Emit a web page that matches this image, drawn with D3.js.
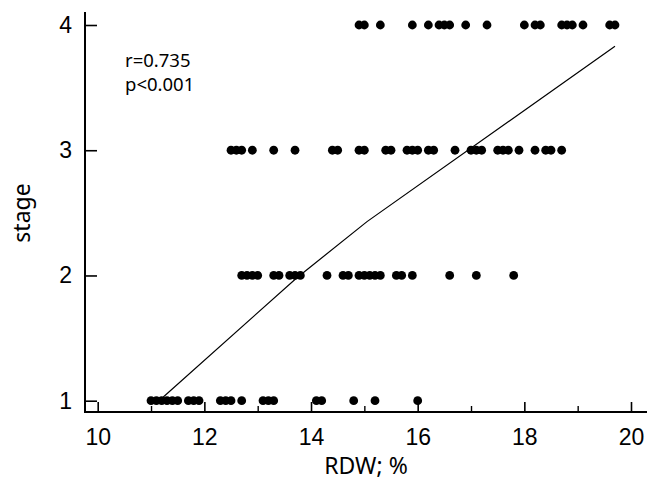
<!DOCTYPE html>
<html>
<head>
<meta charset="utf-8">
<script src="https://cdn.jsdelivr.net/npm/d3@7"></script>
<style>
  body { margin: 0; background: #fff; }
  svg { display: block; font-family: "Noto Sans", "Open Sans", sans-serif; }
</style>
</head>
<body>
<div id="chart"></div>
<script>
// RDW values per stage
var stage1 = [11.0, 11.1, 11.2, 11.3, 11.4, 11.5, 11.7, 11.8, 11.9, 12.3, 12.4, 12.5, 12.7,
              13.1, 13.2, 13.3, 14.1, 14.2, 14.8, 15.2, 16.0];
var stage2 = [12.7, 12.8, 12.9, 13.0, 13.3, 13.4, 13.6, 13.7, 13.8, 14.3, 14.6, 14.7, 14.9,
              15.0, 15.1, 15.2, 15.3, 15.6, 15.7, 15.9, 16.6, 17.1, 17.8];
var stage3 = [12.5, 12.6, 12.7, 12.9, 13.3, 13.7, 14.4, 14.5, 14.9, 15.0, 15.4, 15.5, 15.8,
              15.9, 16.0, 16.2, 16.3, 16.7, 17.0, 17.1, 17.2, 17.5, 17.6, 17.7, 17.9, 18.2,
              18.4, 18.5, 18.7];
var stage4 = [14.9, 15.0, 15.3, 15.9, 16.2, 16.4, 16.5, 16.6, 16.9, 17.3, 18.0, 18.2, 18.3,
              18.7, 18.8, 18.9, 19.1, 19.6, 19.7];
var stages = [1, 2, 3, 4];

// fitted line
var fitX = [11.23, 13.73, 15.05, 19.7];
var fitY = [1.03, 1.98, 2.43, 3.83];

var xTicks = [10, 12, 14, 16, 18, 20];
var xMinor = [11, 13, 15, 17, 19];
var yTicks = [1, 2, 3, 4];
var stats = ['r=0.735', 'p<0.001'];

var width = 647, height = 491;
var axisX = 85, axisY = 412;

var x = d3.scaleLinear().domain([10, 20]).range([97.7, 631]);
var y = d3.scaleLinear().domain([1, 4]).range([400.7, 25]);

var svg = d3.select('#chart').append('svg')
    .attr('width', width)
    .attr('height', height);

// axes
var gx = svg.append('g').attr('transform', 'translate(0,' + axisY + ')');
gx.call(d3.axisBottom(x).tickValues(xTicks).tickSizeInner(-10).tickSizeOuter(0).tickPadding(17).tickFormat(d3.format('d')));
gx.select('.domain').remove();
gx.selectAll('.tick line').attr('stroke', '#000').attr('stroke-width', 1.6);
gx.selectAll('.tick text').attr('font-size', 23).attr('fill', '#000');

var gxm = svg.append('g').attr('transform', 'translate(0,' + axisY + ')');
gxm.call(d3.axisBottom(x).tickValues(xMinor).tickSizeInner(-6).tickSizeOuter(0).tickFormat(''));
gxm.select('.domain').remove();
gxm.selectAll('.tick line').attr('stroke', '#000').attr('stroke-width', 1.4);

var gy = svg.append('g').attr('transform', 'translate(' + axisX + ',0)');
gy.call(d3.axisLeft(y).tickValues(yTicks).tickSizeInner(-12).tickSizeOuter(0).tickPadding(13).tickFormat(d3.format('d')));
gy.select('.domain').remove();
gy.selectAll('.tick line').attr('stroke', '#000').attr('stroke-width', 1.6);
gy.selectAll('.tick text').attr('font-size', 23).attr('fill', '#000');

svg.append('line')
    .attr('x1', axisX).attr('x2', width)
    .attr('y1', axisY).attr('y2', axisY)
    .attr('stroke', '#000').attr('stroke-width', 2);
svg.append('line')
    .attr('x1', axisX).attr('x2', axisX)
    .attr('y1', 12).attr('y2', axisY + 1)
    .attr('stroke', '#000').attr('stroke-width', 2);

// points
var groups = [stage1, stage2, stage3, stage4];
var points = [];
groups.forEach(function (vals, i) {
    vals.forEach(function (v) { points.push({ x: v, s: stages[i] }); });
});

svg.append('g').selectAll('circle')
    .data(points)
    .enter().append('circle')
    .attr('cx', function (d) { return x(d.x); })
    .attr('cy', function (d) { return y(d.s); })
    .attr('r', 4.4)
    .attr('fill', '#000');

// fitted line
var line = d3.line()
    .x(function (d) { return x(d[0]); })
    .y(function (d) { return y(d[1]); });
svg.append('path')
    .datum(d3.zip(fitX, fitY))
    .attr('d', line)
    .attr('fill', 'none')
    .attr('stroke', '#000')
    .attr('stroke-width', 1.2);

// stats
svg.append('g').selectAll('text')
    .data(stats)
    .enter().append('text')
    .attr('x', 125)
    .attr('y', function (d, i) { return 67 + i * 24; })
    .attr('font-size', 18.5)
    .text(function (d) { return d; });

// axis titles
svg.append('text')
    .attr('x', 366).attr('y', 474)
    .attr('text-anchor', 'middle')
    .attr('font-size', 23)
    .text('RDW; %');
svg.append('text')
    .attr('transform', 'translate(30,213) rotate(-90)')
    .attr('text-anchor', 'middle')
    .attr('font-size', 23)
    .text('stage');
</script>
</body>
</html>
